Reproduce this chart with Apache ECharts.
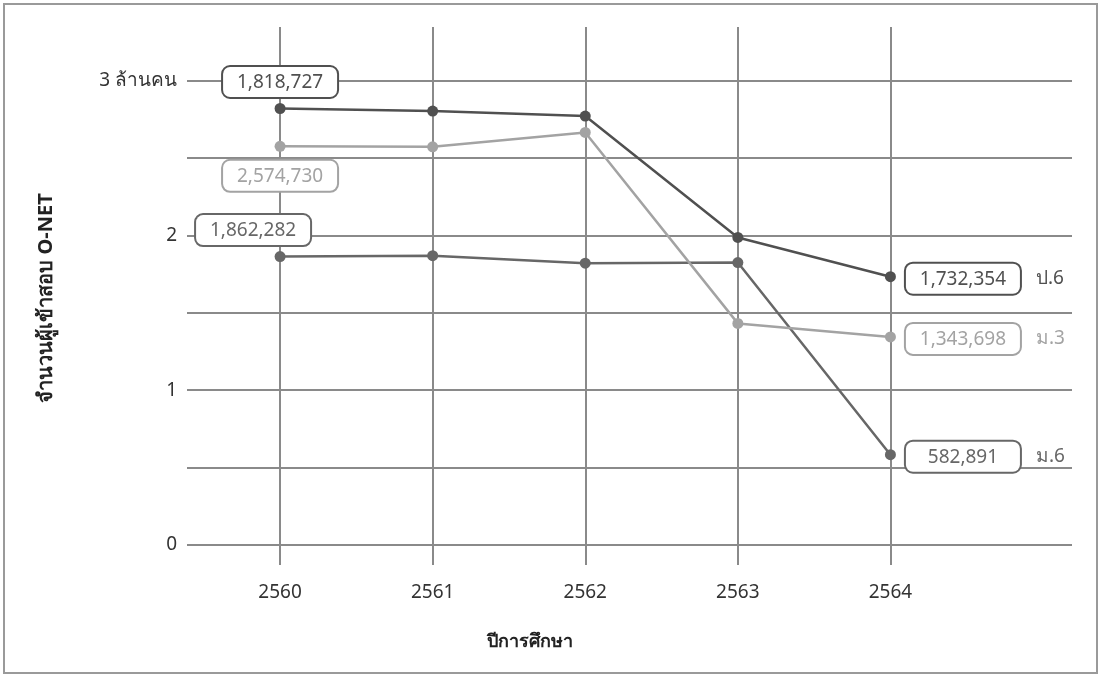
<!DOCTYPE html>
<html><head><meta charset="utf-8">
<script src="https://cdn.jsdelivr.net/npm/echarts@6/dist/echarts.min.js"></script>
<style>html,body{margin:0;padding:0;background:#fff}#c{width:1099px;height:676px}</style>
</head><body><div id="c"></div>
<script>
// Data (values in millions of examinees)
const years = [2560, 2561, 2562, 2563, 2564];
const seriesNames = ['ป.6', 'ม.3', 'ม.6'];
const p6 = [2.818727, 2.802, 2.770, 1.986, 1.732354];
const m3 = [2.574730, 2.571, 2.664, 1.431, 1.343698];
const m6 = [1.862282, 1.868, 1.820, 1.824, 0.582891];
const p6Labels = ['1,818,727', '1,732,354'];
const m3Labels = ['2,574,730', '1,343,698'];
const m6Labels = ['1,862,282', '582,891'];
const yTicks = [0, 0.5, 1, 1.5, 2, 2.5, 3];
const yTickLabels = {0: '0', 1: '1', 2: '2', 3: '3 ล้านคน'};
const xTitle = 'ปีการศึกษา';
const yTitle = 'จำนวนผู้เข้าสอบ O-NET';

const colors = ['#505050', '#a3a3a3', '#676767'];
const FONT = '"Noto Sans", sans-serif';
const FS = 19;

function boxRich(color) {
  return {
    box: {color: color, fontSize: FS, fontFamily: FONT, borderColor: color, borderWidth: 2,
          borderRadius: 7, padding: [6, 0, 5, 0], width: 114, align: 'center', backgroundColor: '#fff'},
    nm: {color: color, fontSize: FS, fontFamily: FONT, padding: [0, 0, 0, 16]}
  };
}

function buildData(vals, labels, name, color, firstPos) {
  return vals.map((v, i) => {
    const item = {value: [years[i], v]};
    if (i === 0) {
      item.label = {show: true, position: firstPos.pos, offset: firstPos.offset,
        formatter: '{box|' + labels[0] + '}', rich: boxRich(color)};
    } else if (i === vals.length - 1) {
      item.label = {show: true, position: 'right', distance: 10, offset: [0, 2],
        formatter: '{box|' + labels[1] + '}{nm|' + name + '}', rich: boxRich(color)};
    }
    return item;
  });
}

const firstPositions = [
  {pos: 'top', offset: [0, -1]},
  {pos: 'bottom', offset: [0, 4]},
  {pos: 'top', offset: [-27, -1]}
];
const allVals = [p6, m3, m6];
const allLabels = [p6Labels, m3Labels, m6Labels];

const series = allVals.map((vals, k) => ({
  name: seriesNames[k],
  type: 'line',
  data: buildData(vals, allLabels[k], seriesNames[k], colors[k], firstPositions[k]),
  symbol: 'circle',
  symbolSize: 11,
  lineStyle: {color: colors[k], width: 2.5},
  itemStyle: {color: colors[k]},
  z: 10 - k,
  animation: false
}));

const chart = echarts.init(document.getElementById('c'), null, {renderer: 'canvas'});
chart.setOption({
  animation: false,
  backgroundColor: '#fff',
  grid: {left: 187, right: 27, top: 27, bottom: 131},
  graphic: [{type: 'rect', shape: {x: 4, y: 4, width: 1093, height: 669},
    style: {fill: 'none', stroke: '#9a9a9a', lineWidth: 2}, z: -1}],
  xAxis: {
    type: 'value', min: 2559.39, max: 2565.19,
    axisLine: {show: false},
    axisTick: {show: true, length: 20, customValues: years, lineStyle: {color: '#8a8a8a', width: 2}},
    axisLabel: {customValues: years, margin: 38, color: '#333', fontSize: FS, fontFamily: FONT,
      formatter: v => String(v)},
    splitLine: {show: true, lineStyle: {color: '#8a8a8a', width: 2}},
    name: xTitle, nameLocation: 'middle', nameGap: 88,
    nameTextStyle: {color: '#222', fontSize: 18, fontWeight: 'bold', fontFamily: FONT, padding: [0, 199, 0, 0]}
  },
  yAxis: {
    type: 'value', min: 0, max: 3.345,
    axisLine: {show: false},
    axisTick: {show: false, customValues: yTicks},
    axisLabel: {customValues: yTicks, margin: 10, color: '#333', fontSize: FS, fontFamily: FONT,
      formatter: v => (yTickLabels[v] !== undefined ? yTickLabels[v] : '')},
    splitLine: {show: true, lineStyle: {color: '#8a8a8a', width: 2}},
    name: yTitle, nameLocation: 'middle', nameGap: 131,
    nameTextStyle: {color: '#222', fontSize: 20, fontWeight: 'bold', fontFamily: FONT, padding: [0, 24, 0, 0]}
  },
  series: series
});
</script></body></html>
